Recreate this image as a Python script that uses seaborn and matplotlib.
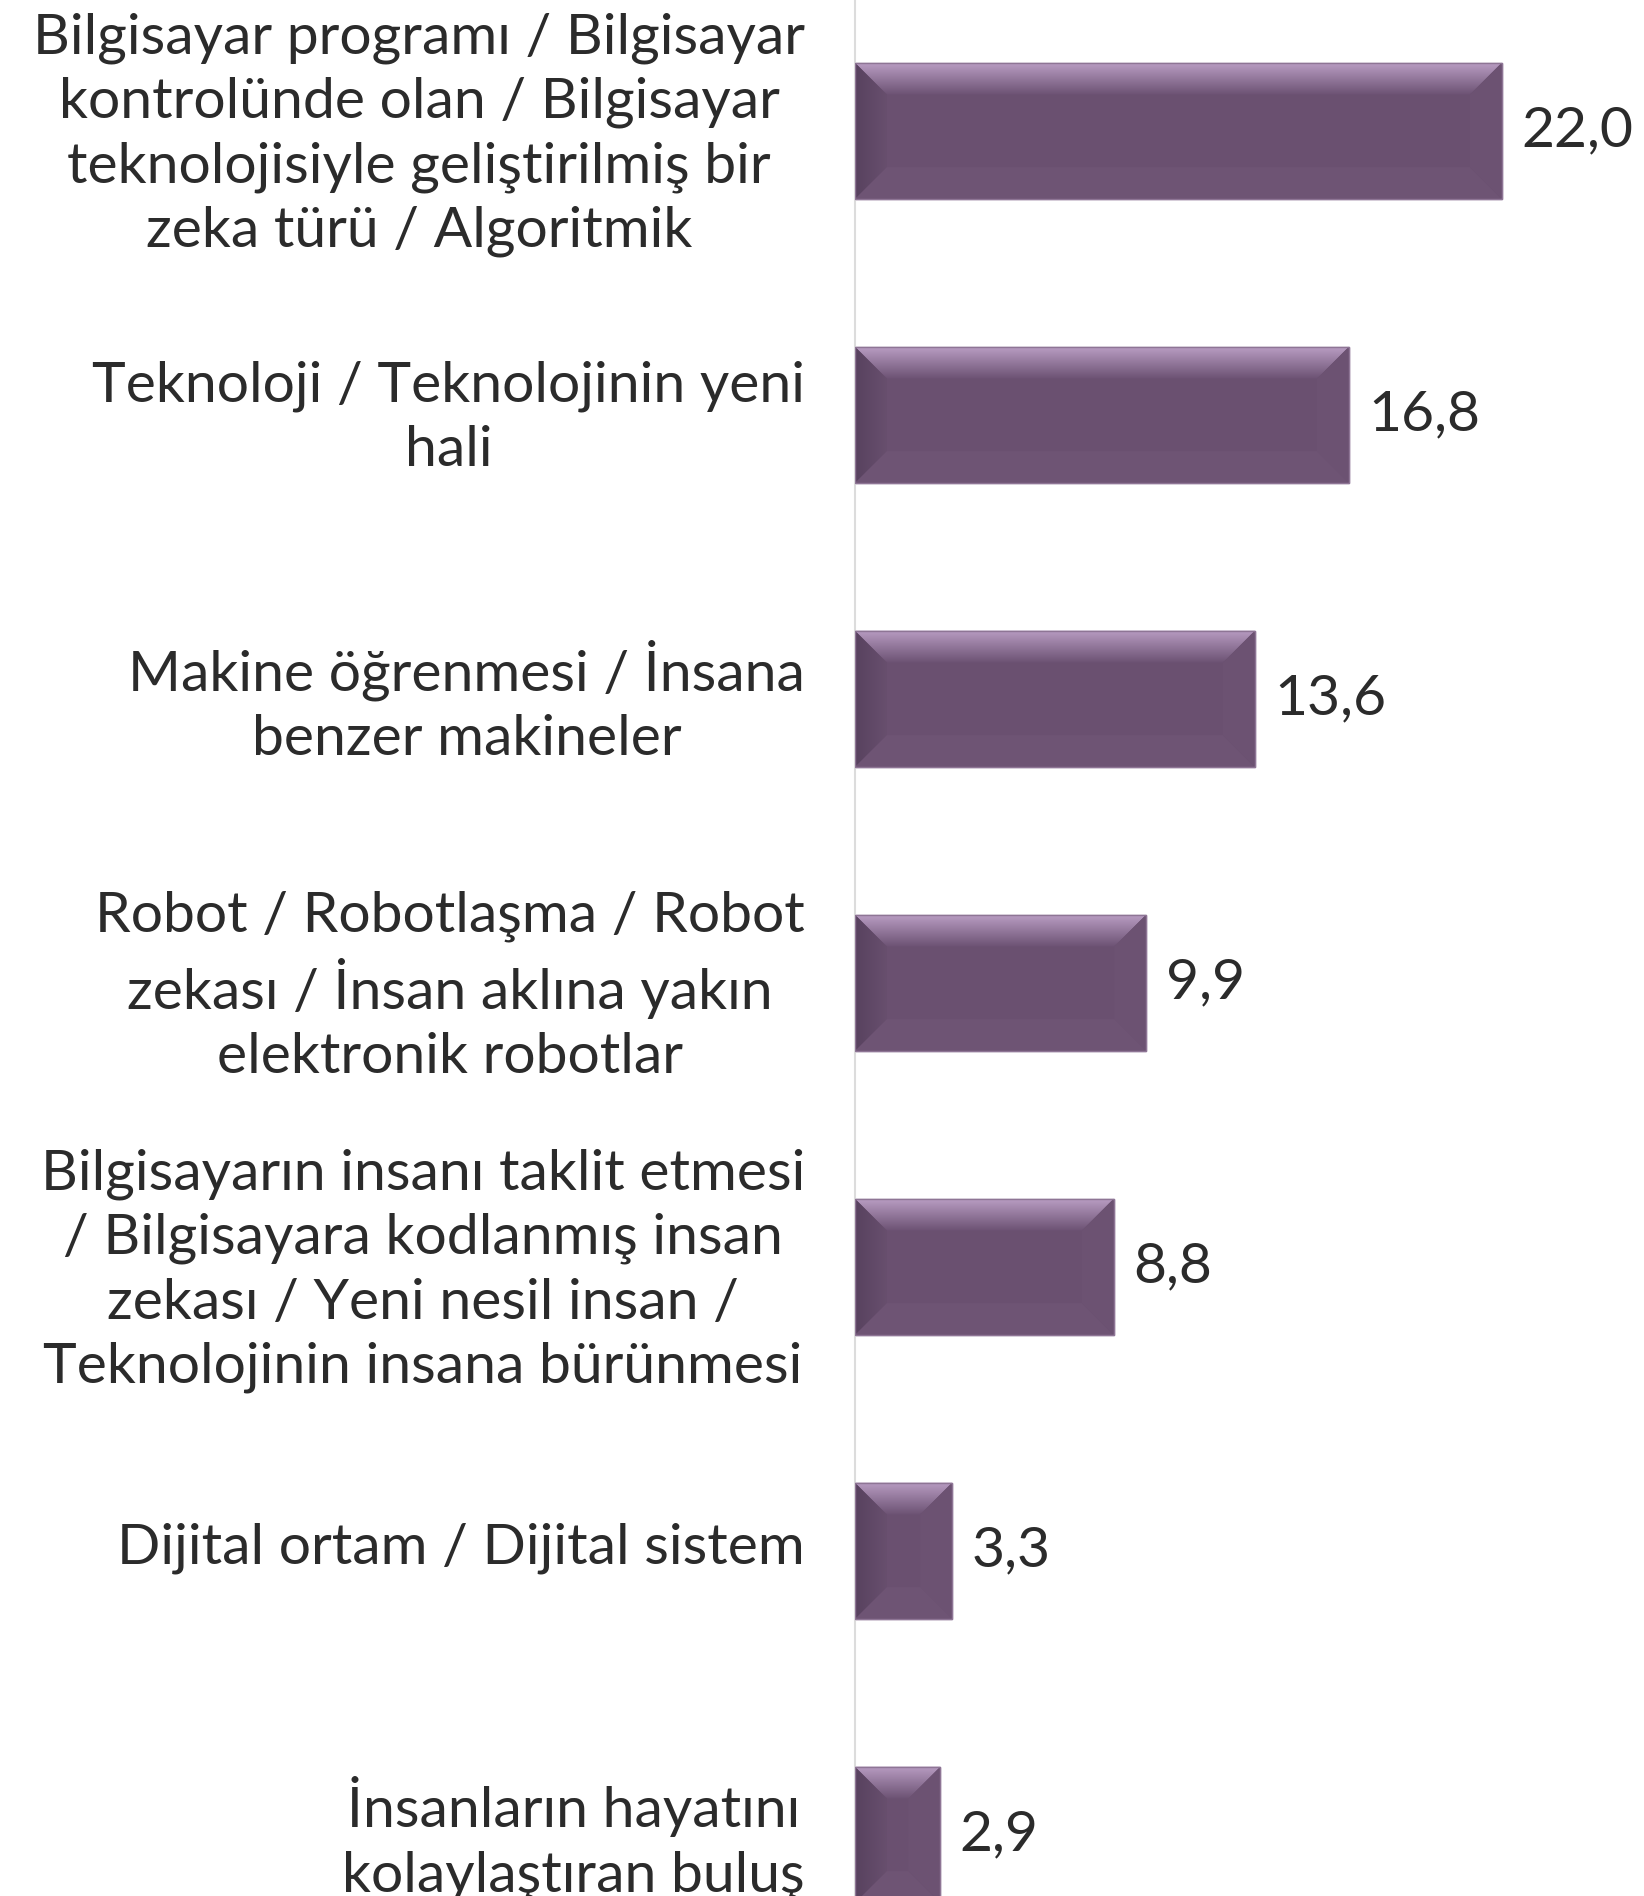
import numpy as np
import pandas as pd
import matplotlib.pyplot as plt
import matplotlib.colors as mcolors
from matplotlib.patches import Polygon
from matplotlib.transforms import ScaledTranslation
import seaborn as sns

categories = [
    "Bilgisayar programı / Bilgisayar\nkontrolünde olan / Bilgisayar\nteknolojisiyle geliştirilmiş bir\nzeka türü / Algoritmik",
    "Teknoloji / Teknolojinin yeni\nhali",
    "Makine öğrenmesi / İnsana\nbenzer makineler",
    "Robot / Robotlaşma / Robot\nzekası / İnsan aklına yakın\nelektronik robotlar",
    "Bilgisayarın insanı taklit etmesi\n/ Bilgisayara kodlanmış insan\nzekası / Yeni nesil insan /\nTeknolojinin insana bürünmesi",
    "Dijital ortam / Dijital sistem",
    "İnsanların hayatını\nkolaylaştıran buluş",
]
values = [22.0, 16.8, 13.6, 9.9, 8.8, 3.3, 2.9]
value_labels = [f"{v:.1f}".replace(".", ",") for v in values]

df = pd.DataFrame({"kategori": categories, "yuzde": values})

sns.set_style("white")
plt.rcParams["font.family"] = ["Lato", "DejaVu Sans"]

W, H = 1644, 1896
fig = plt.figure(figsize=(W / 100, H / 100), dpi=100)
left_px = 855
ax = fig.add_axes([left_px / W, 0, 1 - left_px / W, 1])

face = "#6a5070"
sns.barplot(data=df, x="yuzde", y="kategori", orient="h", color=face,
            width=0.48, saturation=1, edgecolor="#8e7595", linewidth=1, ax=ax)

px_per_unit = 29.4
ax.set_xlim(0, (W - left_px) / px_per_unit)
ax.set_ylim(6.215, -0.461)

ax.set_xlabel("")
ax.set_ylabel("")
ax.set_xticks([])
for s in ["top", "right", "bottom"]:
    ax.spines[s].set_visible(False)
ax.spines["left"].set_color("#dcdcdc")
ax.spines["left"].set_linewidth(1.5)
ax.tick_params(axis="y", length=0, pad=36, labelsize=41, labelcolor="#2b2b2b")
shift = ScaledTranslation(0, 0.08, fig.dpi_scale_trans)
for t in ax.get_yticklabels():
    t.set_multialignment("center")
    t.set_linespacing(1.32)
    t.set_transform(t.get_transform() + shift)

# bevel effect
fig.canvas.draw()
o = ax.transData.transform((0, 0))
bx = 32 / (ax.transData.transform((1, 0))[0] - o[0])
by = 32 / abs(ax.transData.transform((0, 1))[1] - o[1])

def grad(c1, c2, n=64):
    a = np.array(mcolors.to_rgb(c1))
    b = np.array(mcolors.to_rgb(c2))
    t = np.linspace(0, 1, n)[:, None]
    return a * (1 - t) + b * t

for p in ax.patches[:len(values)]:
    x0, y0, w, h = p.get_x(), p.get_y(), p.get_width(), p.get_height()
    top = Polygon([(x0, y0), (x0 + w, y0), (x0 + w - bx, y0 + by), (x0 + bx, y0 + by)],
                  closed=True, facecolor="none", edgecolor="none")
    ax.add_patch(top)
    im = ax.imshow(grad("#b89cc2", "#6c5273")[:, None, :], extent=(x0, x0 + w, y0 + by, y0),
                   origin="upper", aspect="auto", zorder=3)
    im.set_clip_path(top)
    lft = Polygon([(x0, y0), (x0 + bx, y0 + by), (x0 + bx, y0 + h - by), (x0, y0 + h)],
                  closed=True, facecolor="none", edgecolor="none")
    ax.add_patch(lft)
    im = ax.imshow(grad("#58425f", "#684f6e")[None, :, :], extent=(x0, x0 + bx, y0 + h, y0),
                   origin="upper", aspect="auto", zorder=3)
    im.set_clip_path(lft)
    ax.add_patch(Polygon([(x0 + w, y0), (x0 + w - bx, y0 + by), (x0 + w - bx, y0 + h - by), (x0 + w, y0 + h)],
                         closed=True, facecolor="#6c5272", edgecolor="none", zorder=3))
    ax.add_patch(Polygon([(x0, y0 + h), (x0 + bx, y0 + h - by), (x0 + w - bx, y0 + h - by), (x0 + w, y0 + h)],
                         closed=True, facecolor="#6e5474", edgecolor="none", zorder=3))
    ax.add_patch(Polygon([(x0, y0), (x0 + w, y0), (x0 + w, y0 + h), (x0, y0 + h)],
                         closed=True, facecolor="none", edgecolor="#8e7595", linewidth=1, zorder=4))

ax.set_xlim(0, (W - left_px) / px_per_unit)
ax.set_ylim(6.215, -0.461)

ax.bar_label(ax.containers[0], labels=value_labels, padding=14, fontsize=41, color="#2b2b2b")

plt.savefig("out.png", dpi=100)
